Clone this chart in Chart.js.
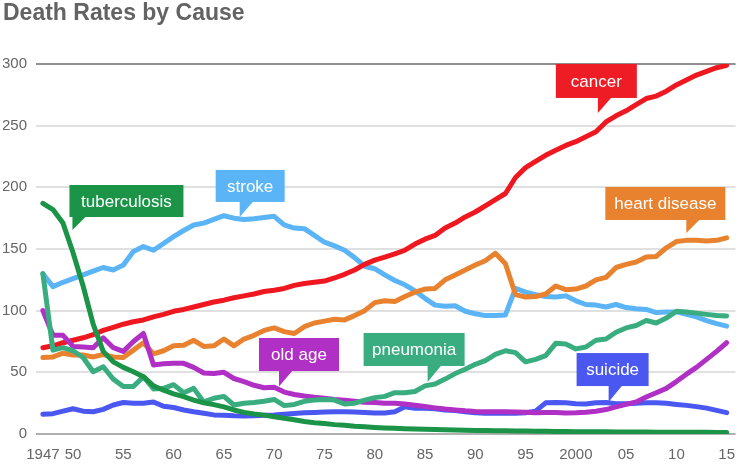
<!DOCTYPE html>
<html>
<head>
<meta charset="utf-8">
<script src="https://cdn.jsdelivr.net/npm/chart.js@4.4.0/dist/chart.umd.min.js"></script>
<style>
  html, body { margin: 0; padding: 0; background: #fff; }
  #wrap { width: 747px; height: 467px; }
</style>
</head>
<body>
<div id="wrap"><canvas id="myChart" width="747" height="467"></canvas></div>
<script>
// years on the x axis
var years = [1947, 1948, 1949, 1950, 1951, 1952, 1953, 1954, 1955, 1956,
  1957, 1958, 1959, 1960, 1961, 1962, 1963, 1964, 1965, 1966,
  1967, 1968, 1969, 1970, 1971, 1972, 1973, 1974, 1975, 1976,
  1977, 1978, 1979, 1980, 1981, 1982, 1983, 1984, 1985, 1986,
  1987, 1988, 1989, 1990, 1991, 1992, 1993, 1994, 1995, 1996,
  1997, 1998, 1999, 2000, 2001, 2002, 2003, 2004, 2005, 2006,
  2007, 2008, 2009, 2010, 2011, 2012, 2013, 2014, 2015];

var tickYears = [1947, 1950, 1955, 1960, 1965, 1970, 1975, 1980, 1985, 1990, 1995, 2000, 2005, 2010, 2015];
var tickLabels = ['1947', '50', '55', '60', '65', '70', '75', '80', '85', '90', '95', '2000', '05', '10', '15'];

// deaths per 100,000
var cancer = [70, 71.5, 74, 76, 78, 80.5, 84, 86.5, 89, 91,
  92.5, 95, 97, 99.5, 101, 103, 105, 107, 108.5, 110.5,
  112, 113.5, 115.5, 116.5, 118, 120.5, 122, 123, 124, 126.5,
  129.5, 133, 137.5, 141, 143.5, 146, 149, 154, 158, 161,
  167, 171, 176, 180, 185, 190, 195, 208, 216, 221,
  226, 230, 234, 237, 241, 245, 253, 258, 262, 267,
  272, 274, 278, 283, 287, 291, 294, 297, 299];

var heartDisease = [62, 62.5, 65.5, 64, 64, 62.5, 64.5, 62.5, 62, 68,
  74, 65, 67.5, 71.5, 72, 76, 71, 71.5, 77, 71.5,
  77, 80, 84, 86, 83, 81.5, 87, 90, 91.5, 93,
  92.5, 96, 100, 106.5, 108, 107.5, 111.5, 115, 117.5, 118,
  125, 129, 133, 137, 140.5, 146.5, 138, 113, 111, 111.5,
  113.5, 120, 117, 117.5, 120, 125, 127, 135, 137.5, 139.5,
  143.5, 144, 151, 156, 157, 157, 156.5, 157, 159];

var stroke = [130, 119.5, 123, 126, 129, 132, 135, 133, 137, 148,
  152, 149, 154.5, 160, 165, 169.5, 171, 174, 177, 175,
  174, 174.5, 175.5, 176.5, 169.5, 167, 166.5, 161, 155.5, 152.5,
  149, 143, 136, 134, 129, 124.5, 121, 116, 110, 104.5,
  103.5, 104, 99.5, 97.5, 96, 96, 96.5, 118, 115, 113,
  111.5, 111, 112, 108, 105, 104.5, 103, 105, 102.5, 101.5,
  101, 98.5, 99, 99, 97, 95, 92, 89.5, 87.5];

var tuberculosis = [187, 182, 171, 147, 120, 89, 67, 58.5, 54, 50.5,
  46.5, 39, 35.5, 32.5, 30.3, 27.5, 25.3, 23.8, 22, 19.5,
  17.5, 16.3, 15.3, 14, 12.8, 11.5, 10.2, 9.2, 8.5, 7.6,
  7, 6.3, 5.8, 5.3, 4.9, 4.6, 4.3, 4, 3.8, 3.6,
  3.4, 3.2, 3, 2.9, 2.8, 2.7, 2.6, 2.5, 2.4, 2.3,
  2.2, 2.1, 2, 1.9, 1.9, 1.8, 1.8, 1.7, 1.7, 1.6,
  1.6, 1.5, 1.5, 1.5, 1.4, 1.4, 1.4, 1.3, 1.3];

var pneumonia = [130, 68, 70, 67.5, 62, 50.5, 54.5, 44.5, 38.5, 38.5,
  46.5, 36.5, 37, 40, 33.5, 37, 26, 29, 30.5, 23.5,
  25, 25.5, 26.5, 28, 23, 24, 26.5, 27.5, 28, 27.5,
  24.3, 25, 27.5, 29.5, 30.5, 33.5, 33.5, 34.5, 39, 40.5,
  44.5, 49, 52.5, 56.5, 59.5, 64.5, 67.5, 66, 58.5, 60.5,
  63.5, 73.5, 73, 69, 70.5, 76, 77, 82.5, 86, 88,
  92, 90, 94, 99.5, 99, 98, 97, 96, 95.7];

var oldAge = [100, 80, 80, 71, 70.5, 70, 78, 70, 67, 75,
  81.5, 56, 57, 57.3, 57.3, 54, 49.5, 49, 50, 45,
  42.5, 39.5, 37.5, 38, 34, 32, 30.8, 29.8, 29, 28,
  27.3, 26.5, 25.8, 25.5, 25, 25, 24.3, 23.3, 22.3, 21.2,
  20.2, 19.5, 18.8, 18.3, 18.1, 18, 18, 17.9, 17.6, 17.3,
  17.5, 17.5, 17, 17.2, 17.6, 18.5, 19.8, 22, 24, 26,
  30, 33.5, 37, 42.5, 48.5, 54, 60.5, 67, 74];

var suicide = [16, 16.5, 18.5, 20.5, 18.5, 18, 20, 23.5, 25.5, 25,
  25, 26, 22.5, 21.5, 19.5, 18, 16.8, 15.5, 15.2, 14.8,
  14.6, 14.8, 15.2, 15.4, 16, 16.6, 17.2, 17.5, 17.8, 18,
  18, 17.8, 17.5, 17, 17, 18, 22, 20.8, 20.8, 20.5,
  19.5, 19, 18, 17.2, 16.8, 16.8, 16.8, 16.8, 17.3, 18.5,
  25.3, 25.5, 25.3, 24.5, 24.3, 25.3, 25.5, 24.5, 24.5, 24.9,
  25.3, 25.3, 24.9, 24, 23.2, 22.2, 21, 19.2, 17.3];

var font = '"Liberation Sans", Arial, Helvetica, sans-serif';

function points(values) {
  return years.map(function (yr, i) { return { x: yr, y: values[i] }; });
}

function line(label, values, color) {
  return {
    label: label,
    data: points(values),
    borderColor: color,
    backgroundColor: color,
    borderWidth: 5,
    borderJoinStyle: 'round',
    borderCapStyle: 'round',
    pointRadius: 0,
    tension: 0,
    fill: false
  };
}

// callout boxes: anchor (year, value) is where the pointer tip lands
var callouts = [
  { text: 'tuberculosis', color: '#1b9447', year: 1949.94, value: 165.4, dx: -3, dy: 13, w: 114, h: 32 },
  { text: 'stroke', color: '#5ab4f5', year: 1966.57, value: 176, dx: -24, dy: 15, w: 69, h: 32 },
  { text: 'cancer', color: '#ee1c25', year: 2002.19, value: 260.3, dx: -42, dy: 15, w: 81, h: 34 },
  { text: 'heart disease', color: '#e8822f', year: 2010.99, value: 163, dx: -81, dy: 13, w: 120, h: 33 },
  { text: 'old age', color: '#b02fc5', year: 1970.48, value: 38.5, dx: -20, dy: 15.5, w: 80, h: 33 },
  { text: 'pneumonia', color: '#3aad80', year: 1985.26, value: 42.2, dx: -64, dy: 16, w: 101, h: 33 },
  { text: 'suicide', color: '#4a57f0', year: 2003.26, value: 25.9, dx: -32, dy: 16, w: 72, h: 33 }
];

var calloutPlugin = {
  id: 'callouts',
  afterDatasetsDraw: function (chart) {
    var ctx = chart.ctx;
    var xs = chart.scales.x, ys = chart.scales.y;
    ctx.save();
    ctx.font = '17px ' + font;
    ctx.textAlign = 'center';
    ctx.textBaseline = 'middle';
    callouts.forEach(function (c) {
      var tx = xs.getPixelForValue(c.year);
      var ty = ys.getPixelForValue(c.value);
      var left = tx + c.dx;
      var bottom = ty - c.dy;
      var top = bottom - c.h;
      ctx.fillStyle = c.color;
      ctx.fillRect(left, top, c.w, c.h);
      ctx.beginPath();
      ctx.moveTo(tx, bottom - 1);
      ctx.lineTo(tx + 14, bottom - 1);
      ctx.lineTo(tx, ty);
      ctx.closePath();
      ctx.fill();
      ctx.fillStyle = '#ffffff';
      ctx.fillText(c.text, left + c.w / 2, top + c.h / 2 + 1);
    });
    ctx.restore();
  }
};

var ctx = document.getElementById('myChart').getContext('2d');
var myChart = new Chart(ctx, {
  type: 'line',
  data: {
    datasets: [
      line('tuberculosis', tuberculosis, '#1b9447'),
      line('pneumonia', pneumonia, '#3aad80'),
      line('old age', oldAge, '#b02fc5'),
      line('cancer', cancer, '#ef1820'),
      line('heart disease', heartDisease, '#e8822f'),
      line('stroke', stroke, '#5ab4f5'),
      line('suicide', suicide, '#4a57f0')
    ]
  },
  options: {
    responsive: false,
    animation: false,
    devicePixelRatio: 1,
    layout: { padding: { left: 3, top: 0, right: 0, bottom: 0 } },
    plugins: {
      legend: { display: false },
      tooltip: { enabled: false },
      title: {
        display: true,
        text: 'Death Rates by Cause',
        align: 'start',
        color: '#636363',
        font: { family: font, size: 23, weight: 'bold' },
        padding: { top: 0, bottom: 36.4 }
      }
    },
    scales: {
      x: {
        type: 'linear',
        min: 1946.315,
        max: 2015.881,
        grid: { display: false, drawTicks: false },
        border: { display: false },
        afterBuildTicks: function (scale) {
          scale.ticks = tickYears.map(function (v) { return { value: v }; });
        },
        afterFit: function (scale) { scale.height = 33; },
        ticks: {
          autoSkip: false,
          maxRotation: 0,
          padding: 12,
          color: '#666666',
          font: { family: font, size: 15 },
          callback: function (v) {
            var i = tickYears.indexOf(v);
            return i >= 0 ? tickLabels[i] : '';
          }
        }
      },
      y: {
        min: 0,
        max: 300,
        border: { display: false },
        afterFit: function (scale) { scale.width = 33; },
        grid: {
          drawTicks: false,
          lineWidth: 2,
          color: function (c) {
            var v = c.tick ? c.tick.value : null;
            if (v === 300) return '#8f8f8f';
            if (v === 0) return '#b0b0b0';
            return '#e0e0e0';
          }
        },
        ticks: {
          stepSize: 50,
          padding: 9,
          color: '#666666',
          font: { family: font, size: 15 }
        }
      }
    }
  },
  plugins: [calloutPlugin]
});
</script>
</body>
</html>
